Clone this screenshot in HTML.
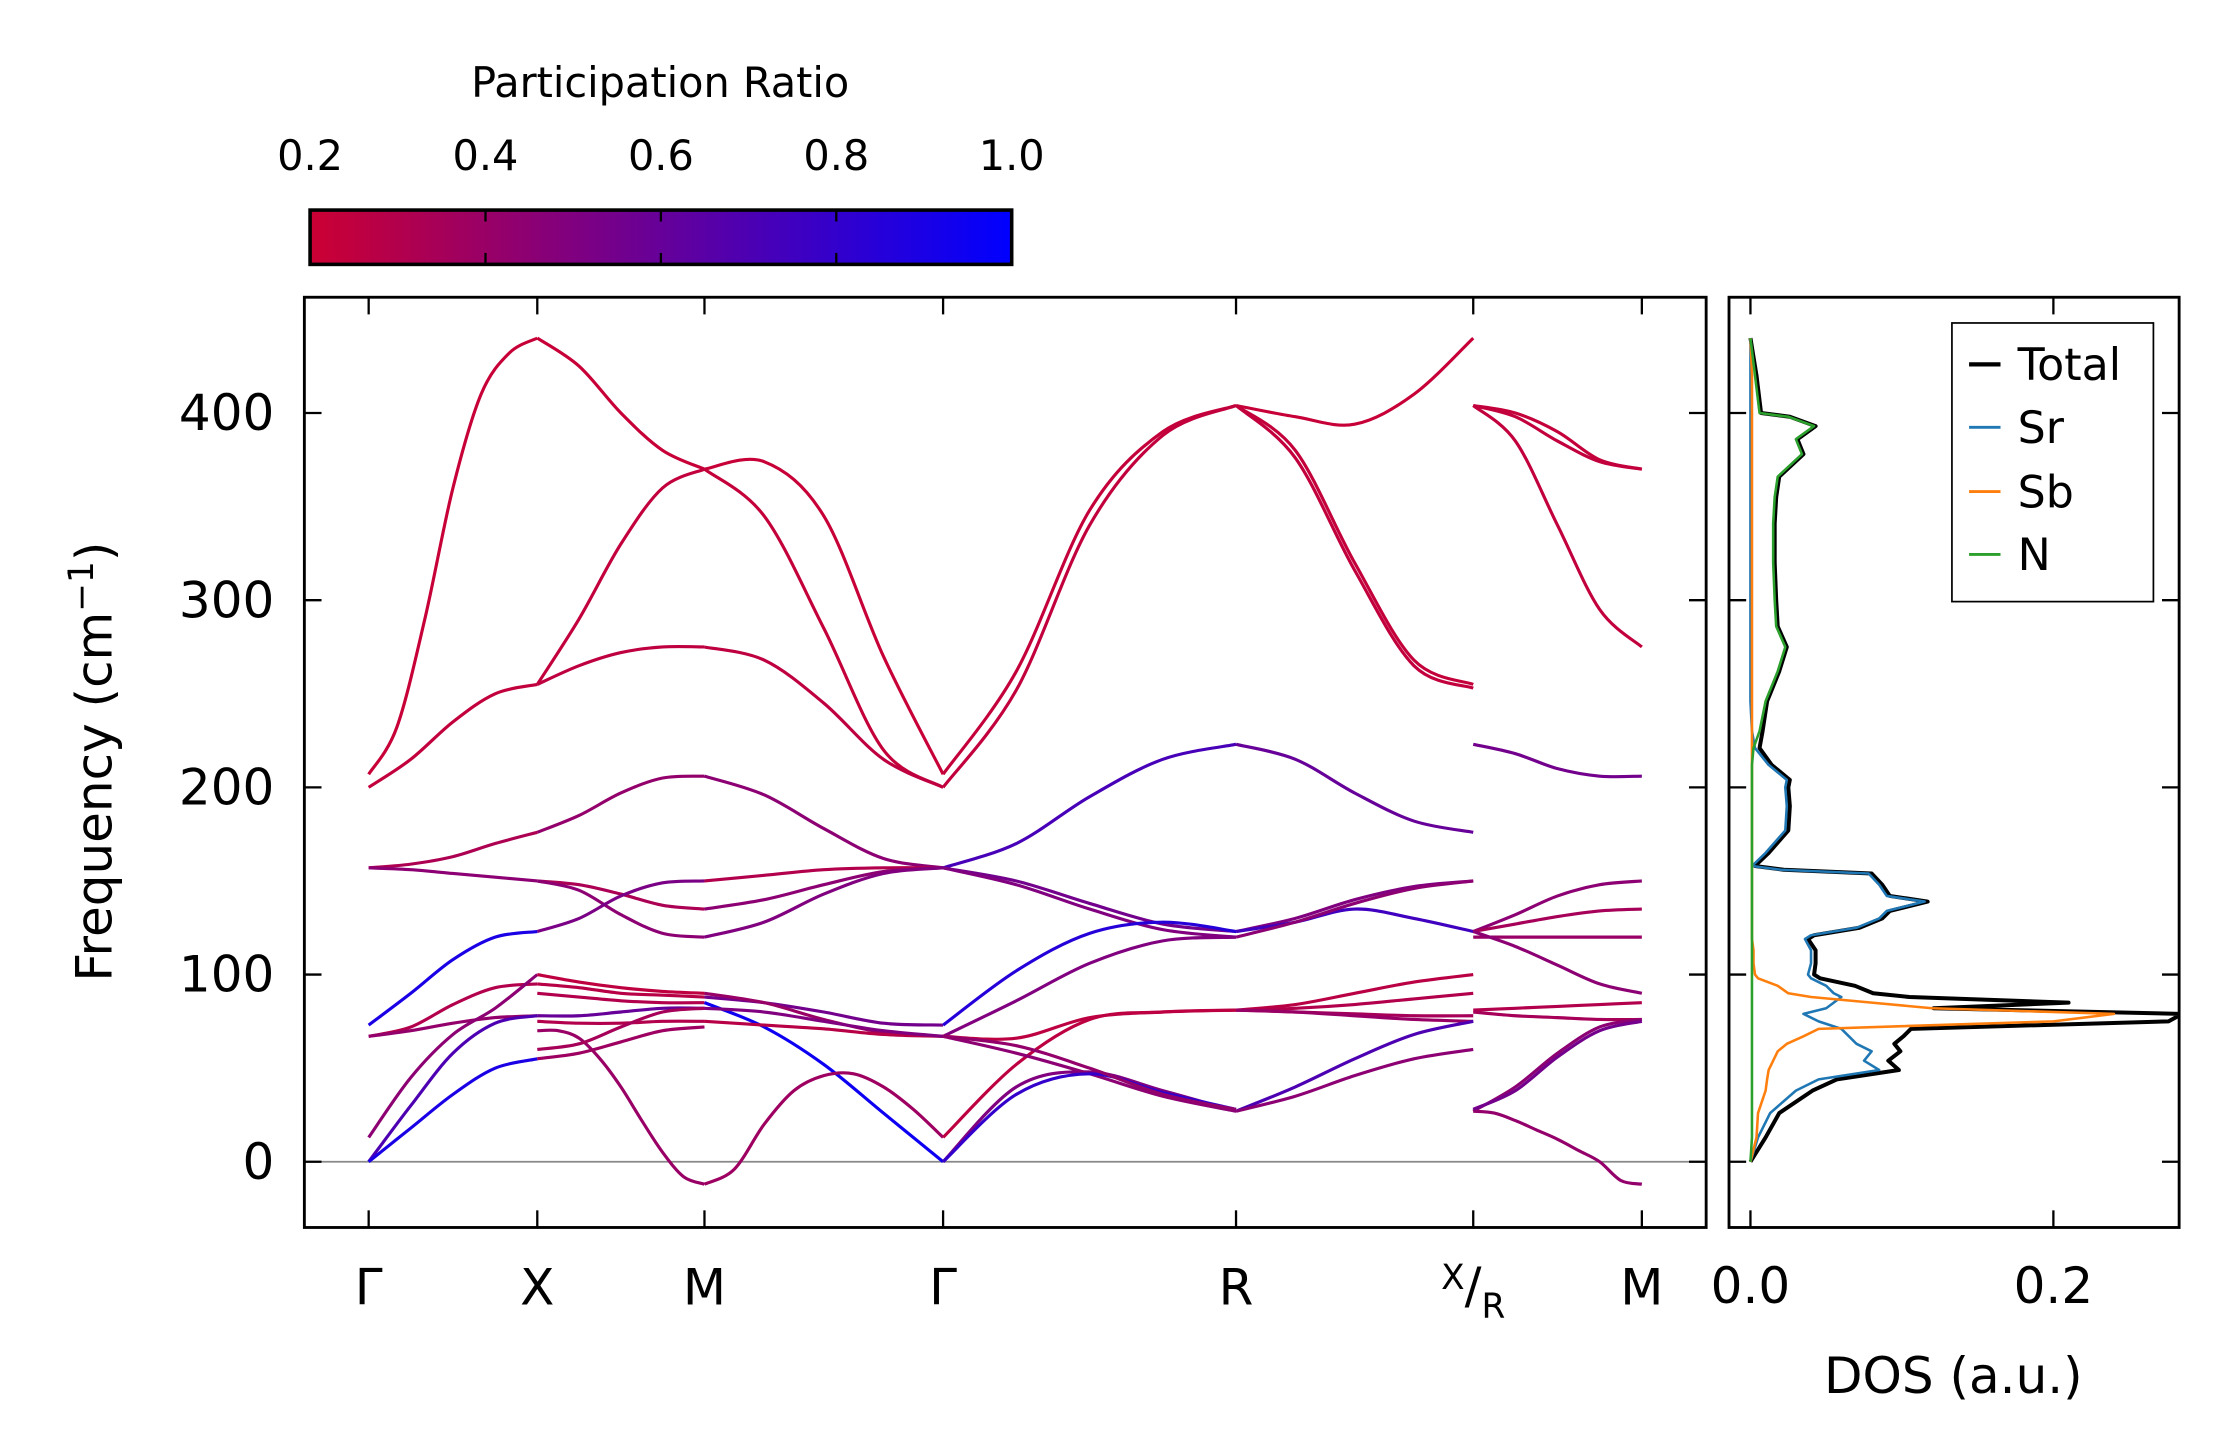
<!DOCTYPE html>
<html><head><meta charset="utf-8"><style>
html,body{margin:0;padding:0;background:#fff;}
svg{display:block;font-family:"DejaVu Sans","Liberation Sans",sans-serif;}
</style></head><body>
<svg id="chart" width="2222" height="1455" viewBox="0 0 1555 1018.2" xmlns="http://www.w3.org/2000/svg">
<defs>
<linearGradient id="cmap" x1="0" x2="1" y1="0" y2="0">
<stop offset="0" stop-color="rgb(204,0,51)"/><stop offset="1" stop-color="rgb(0,0,255)"/>
</linearGradient>
<clipPath id="clipMain"><rect x="213" y="208" width="981" height="651"/></clipPath>
<clipPath id="clipDos"><rect x="1210" y="208" width="315" height="651"/></clipPath>
</defs>
<g id="colorbar">
<text x="462" y="68" font-size="29" text-anchor="middle">Participation Ratio</text>
<rect x="217" y="147" width="491" height="38" fill="url(#cmap)" stroke="#000" stroke-width="2.5"/>
</g>
<g id="bands" clip-path="url(#clipMain)"></g>
<g id="dos" clip-path="url(#clipDos)"></g>
<g id="axes"></g>
<g>
<rect x="1366" y="226" width="141" height="195" fill="#fff" stroke="#000" stroke-width="1.2"/>
<line x1="1378" x2="1400" y1="255" y2="255" stroke="#000" stroke-width="3"/>
<text x="1412" y="266" font-size="31">Total</text>
<line x1="1378" x2="1400" y1="299" y2="299" stroke="#1f77b4" stroke-width="2"/>
<text x="1412" y="310" font-size="31">Sr</text>
<line x1="1378" x2="1400" y1="344" y2="344" stroke="#ff7f0e" stroke-width="2"/>
<text x="1412" y="355" font-size="31">Sb</text>
<line x1="1378" x2="1400" y1="388" y2="388" stroke="#2ca02c" stroke-width="2"/>
<text x="1412" y="399" font-size="31">N</text>
</g>
<text transform="translate(78,533) rotate(-90)" font-size="35" text-anchor="middle">Frequency (cm<tspan dy="-13" font-size="24">−1</tspan><tspan dy="13">)</tspan></text>
<text x="1367" y="975" font-size="35" text-anchor="middle">DOS (a.u.)</text>
</svg>
<script>
const NS="http://www.w3.org/2000/svg";
// ---- data ----
const kLabels=["Γ","X","M","Γ","R","X/R","M"];
const yTicks=[0,100,200,300,400];
const cbTicks=[0.2,0.4,0.6,0.8,1.0];
const dosTicks=[0.0,0.2];
// segments: 0 Γ-X, 1 X-M, 2 M-Γ, 3 Γ-R, 4 R-X, 5 R-M
const bandSeg=[0,0,0,0,0,0,0,0,0,0, 1,1,1,1,1,1,1,1,1,1,1,1,1,1,1, 2,2,2,2,2,2,2,2,2,2,2,2,2, 3,3,3,3,3,3,3,3,3,3,3,3,3, 4,4,4,4,4,4,4,4,4,4,4,4,4, 5,5,5,5,5,5,5,5,5,5,5,5,5];
const bandVals=[
[207,232,290,360,410,432,440],[200,215,235,250,255],[157,159,163,170,176],[157,156,154,152,150],[73,90,108,120,123],[67,72,84,93,95],[67,70,74,77,78],[13,45,68,82,100],[0,30,58,74,78],[0,18,36,50,55],
[440,425,400,380,370],[255,290,330,360,370],[255,265,272,275,275],[176,185,197,205,206],[150,148,143,137,135],[150,145,132,122,120],[123,130,142,149,150],[100,96,93,91,90],[95,93,90,89,88],[90,88,86,85,85],[78,78,80,82,82],[75,74,74,75,75],[70,70,66,55,40,22,5,-8,-12],[60,63,72,80,82],[55,58,64,70,72],
[370,374,345,270,207],[370,345,285,220,200],[275,268,245,215,200],[206,196,178,162,157],[150,153,156,157,157],[135,140,148,155,157],[120,128,143,154,157],[85,72,52,26,0],[88,85,80,74,73],[90,85,76,69,67],[75,73,71,68,67],[-12,-4,20,38,46,47,40,28,13],[82,80,75,70,67],
[207,262,348,390,404],[200,252,340,388,404],[157,170,195,215,223],[157,150,138,127,123],[157,148,135,124,120],[73,102,122,128,123],[67,86,106,118,120],[67,66,77,80,81],[13,52,76,80,81],[0,40,48,38,27],[67,58,47,35,27],[0,36,47,37,28],[67,62,50,36,28],
[404,398,394,410,440],[404,380,320,268,255],[404,376,316,265,253],[223,215,197,182,176],[123,130,140,147,150],[123,128,135,130,123],[120,128,138,146,150],[81,84,90,96,100],[81,82,84,87,90],[81,80,79,78,78],[81,80,78,76,75],[27,40,55,68,75],[27,35,46,55,60],
[404,400,390,375,370],[404,385,340,295,275],[223,218,210,206,206],[123,132,142,148,150],[123,127,131,134,135],[120,120,120,120,120],[123,115,105,95,90],[81,82,83,84,85],[80,78,77,76,76],[27,40,58,72,76],[27,26,22,17,12,6,0,-10,-12],[404,398,385,374,370],[28,38,56,70,75]
];
const bandPR=[0.22,0.24,0.32,0.45,0.9,0.3,0.42,0.45,0.7,0.9,
0.22,0.24,0.25,0.42,0.33,0.45,0.52,0.25,0.28,0.3,0.6,0.3,0.4,0.35,0.38,
0.22,0.23,0.25,0.45,0.3,0.45,0.5,0.95,0.55,0.4,0.28,0.38,0.5,
0.23,0.24,0.72,0.55,0.5,0.85,0.5,0.26,0.26,0.5,0.45,0.8,0.42,
0.22,0.23,0.24,0.6,0.5,0.75,0.45,0.27,0.3,0.35,0.4,0.7,0.45,
0.23,0.24,0.55,0.45,0.35,0.4,0.45,0.3,0.35,0.45,0.42,0.24,0.55];
const dosFreq=[0,13,26,38,44,49,54,59,63,67,71,75,79,82,85,88,90,94,98,100,106,113,119,121,125,130,134,139,142,148,154,156,158,165,177,190,200,204,212,221,230,246,262,275,286,300,320,341,355,366,378,386,393,398,400,420,440];
const dosSr=[0,0.005,0.013,0.03,0.045,0.085,0.075,0.08,0.07,0.065,0.06,0.045,0.035,0.05,0.055,0.06,0.055,0.05,0.04,0.038,0.04,0.04,0.036,0.04,0.07,0.085,0.09,0.115,0.09,0.085,0.078,0.02,0.001,0.01,0.023,0.024,0.023,0.024,0.012,0.003,0.001,0,0,0,0,0,0,0,0,0,0,0,0,0,0,0,0];
const dosSb=[0,0.004,0.005,0.01,0.011,0.012,0.015,0.018,0.024,0.035,0.045,0.2,0.24,0.12,0.08,0.04,0.025,0.018,0.005,0.003,0.002,0.002,0.001,0.001,0.001,0.001,0.001,0.001,0.001,0.001,0.001,0.001,0.001,0.001,0.001,0.001,0.001,0.001,0.001,0.001,0.001,0.001,0.001,0.001,0.001,0.001,0.001,0.001,0.001,0.001,0.001,0.001,0.001,0.001,0.001,0.001,0];
const dosN=[0,0.001,0.001,0.001,0.001,0.001,0.001,0.001,0.001,0.001,0.001,0.001,0.001,0.001,0.001,0.001,0.001,0.001,0.001,0.001,0.001,0.001,0.001,0.001,0.001,0.001,0.001,0.001,0.001,0.001,0.001,0.001,0.001,0.001,0.001,0.001,0.001,0.001,0.001,0.002,0.006,0.01,0.018,0.023,0.017,0.016,0.015,0.015,0.016,0.018,0.034,0.03,0.042,0.025,0.006,0.003,0];
const dosTotal=[0,0.01,0.019,0.041,0.057,0.098,0.091,0.099,0.095,0.101,0.106,0.276,0.285,0.121,0.21,0.105,0.081,0.069,0.046,0.042,0.043,0.043,0.038,0.042,0.072,0.087,0.092,0.117,0.092,0.087,0.08,0.022,0.003,0.012,0.025,0.026,0.025,0.026,0.014,0.006,0.008,0.011,0.019,0.024,0.018,0.017,0.016,0.016,0.017,0.019,0.035,0.031,0.043,0.026,0.007,0.004,0];
// ---- layout ----
const kX=[258,376,493,660,865,1031,1149];
const segs=[[0,1],[1,2],[2,3],[3,4],[4,5],[5,6]];
const yPix=f=>813-1.31*f;
const dosX=v=>1225+1060*v;
const cbX=v=>217+(v-0.2)/0.8*491;
function prColor(p){const t=Math.max(0,Math.min(1,(p-0.2)/0.8));return `rgb(${Math.round(204*(1-t))},0,${Math.round(51+204*t)})`;}
function el(tag,attrs,parent){const e=document.createElementNS(NS,tag);for(const k in attrs)e.setAttribute(k,attrs[k]);parent.appendChild(e);return e;}
function smooth(pts){let d=`M${pts[0][0]},${pts[0][1]}`;for(let i=0;i<pts.length-1;i++){const p0=pts[Math.max(0,i-1)],p1=pts[i],p2=pts[i+1],p3=pts[Math.min(pts.length-1,i+2)];
const c1=[p1[0]+(p2[0]-p0[0])/6,p1[1]+(p2[1]-p0[1])/6],c2=[p2[0]-(p3[0]-p1[0])/6,p2[1]-(p3[1]-p1[1])/6];
d+=`C${c1[0]},${c1[1]} ${c2[0]},${c2[1]} ${p2[0]},${p2[1]}`;}return d;}
const bandsG=document.getElementById('bands');
el('line',{x1:213,x2:1194,y1:yPix(0),y2:yPix(0),stroke:'#888','stroke-width':1.2,},bandsG);
bandVals.forEach((vals,i)=>{const s=segs[bandSeg[i]];const xa=kX[s[0]],xb=kX[s[1]];
const pts=vals.map((v,j)=>[xa+(xb-xa)*j/(vals.length-1),yPix(v)]);
const p=el('path',{d:smooth(pts),fill:'none',stroke:prColor(bandPR[i]),'stroke-width':2.2},bandsG);

});
const dosG=document.getElementById('dos');
[[dosTotal,'#000',2.8,'dos-total'],[dosSr,'#1f77b4',1.8,'dos-sr'],[dosSb,'#ff7f0e',1.8,'dos-sb'],[dosN,'#2ca02c',1.8,'dos-n']].forEach(s=>{
const d=dosFreq.map((f,i)=>(i?'L':'M')+dosX(s[0][i])+','+yPix(f)).join('');
const p=el('path',{d:d,fill:'none',stroke:s[1],'stroke-width':s[2],'stroke-linejoin':'round'},dosG);

});
// ---- axes ----
const ax=document.getElementById('axes');
const fr1=el('rect',{x:213,y:208,width:981,height:651,fill:'none',stroke:'#000','stroke-width':2},ax);


const fr2=el('rect',{x:1210,y:208,width:315,height:651,fill:'none',stroke:'#000','stroke-width':2},ax);


const L=12;
yTicks.forEach(t=>{const y=yPix(t);
[[213,213+L],[1194-L,1194],[1210,1210+L],[1525-L,1525]].forEach(a=>{const tk=el('line',{x1:a[0],x2:a[1],y1:y,y2:y,stroke:'#000','stroke-width':1.6},ax);});
const tx=el('text',{x:192,y:y+12,'font-size':35,'text-anchor':'end'},ax);tx.textContent=t;

});
kLabels.forEach((lab,i)=>{const x=kX[i];
[[208,208+L],[859-L,859]].forEach(a=>{const tk=el('line',{x1:x,x2:x,y1:a[0],y2:a[1],stroke:'#000','stroke-width':1.6},ax);});
let tx;
if(lab==="X/R"){tx=el('text',{x:x,y:912,'font-size':35,'text-anchor':'middle'},ax);
tx.innerHTML='<tspan font-size="24" dy="-10">X</tspan><tspan dy="10">/</tspan><tspan font-size="24" dy="10">R</tspan>';}
else{tx=el('text',{x:x,y:913,'font-size':35,'text-anchor':'middle'},ax);tx.textContent=lab;}

});
dosTicks.forEach(t=>{const x=dosX(t);
[[208,208+L],[859-L,859]].forEach(a=>{const tk=el('line',{x1:x,x2:x,y1:a[0],y2:a[1],stroke:'#000','stroke-width':1.6},ax);});
const tx=el('text',{x:x,y:912,'font-size':35,'text-anchor':'middle'},ax);tx.textContent=t.toFixed(1);

});
const cb=document.getElementById('colorbar');
cbTicks.forEach(t=>{const x=cbX(t);
if(t>0.21&&t<0.99){[[147,155],[177,185]].forEach(a=>{const tk=el('line',{x1:x,x2:x,y1:a[0],y2:a[1],stroke:'#000','stroke-width':1.6},cb);});}
const tx=el('text',{x:x,y:119,'font-size':29,'text-anchor':'middle'},cb);tx.textContent=t.toFixed(1);

});
</script>
</body></html>
